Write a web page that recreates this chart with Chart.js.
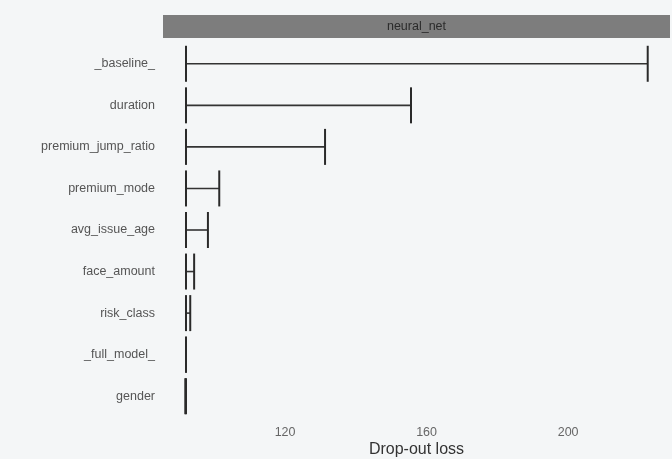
<!DOCTYPE html>
<html>
<head>
<meta charset="utf-8">
<script src="https://cdn.jsdelivr.net/npm/chart.js@4"></script>
<style>
    html, body { margin: 0; padding: 0; background: #f4f6f7; }
    #wrap { width: 672px; height: 459px; position: relative; }
</style>
</head>
<body>
<div id="wrap"><canvas id="lossChart"></canvas></div>
<script>
// ==========================================
// DROP-OUT LOSS - neural_net
// ==========================================

const variables = ['_baseline_', 'duration', 'premium_jump_ratio', 'premium_mode', 'avg_issue_age',
    'face_amount', 'risk_class', '_full_model_', 'gender'];
const fullModelLoss = 92.0;
const dropoutLoss = [222.5, 155.6, 131.3, 101.4, 98.2, 94.3, 93.2, 92.0, 91.8];
const xTicks = [120, 160, 200];
const panelTitle = 'neural_net';

const FONT = '"Liberation Sans", Arial, sans-serif';

// Franja gris del facet encima del panel
const stripPlugin = {
    id: 'strip',
    beforeDraw(chart) {
        const { ctx, chartArea } = chart;
        ctx.save();
        ctx.fillStyle = '#7d7d7d';
        ctx.fillRect(chartArea.left, chartArea.top - 28, chartArea.right - chartArea.left, 23);
        ctx.fillStyle = '#2b2b2b';
        ctx.font = '12.5px ' + FONT;
        ctx.textAlign = 'center';
        ctx.textBaseline = 'middle';
        ctx.fillText(panelTitle, (chartArea.left + chartArea.right) / 2, chartArea.top - 16);
        ctx.restore();
    }
};

const datasets = variables.map((v, i) => ({
    label: v,
    data: [{ x: fullModelLoss, y: v }, { x: dropoutLoss[i], y: v }],
    borderColor: '#333333',
    borderWidth: 1.6,
    pointStyle: 'line',
    rotation: 90,
    pointRadius: 18,
    pointHoverRadius: 18,
    pointBorderColor: '#2a2a2a',
    pointBorderWidth: 2,
    tension: 0
}));

new Chart(document.getElementById('lossChart').getContext('2d'), {
    type: 'line',
    data: { datasets },
    options: {
        responsive: true,
        maintainAspectRatio: false,
        animation: false,
        layout: { autoPadding: false, padding: { top: 43, right: 2, left: 0, bottom: 0 } },
        plugins: { legend: { display: false }, tooltip: { enabled: false } },
        scales: {
            x: {
                type: 'linear',
                min: 85.5,
                max: 228.8,
                afterBuildTicks: scale => { scale.ticks = xTicks.map(v => ({ value: v })); },
                afterFit: scale => { scale.height = 42; },
                grid: { display: false, drawTicks: false },
                border: { display: false },
                ticks: { color: '#666', padding: 8, font: { size: 12.5, family: FONT } },
                title: {
                    display: true,
                    text: 'Drop-out loss',
                    color: '#333',
                    padding: { top: 1, bottom: 0 },
                    font: { size: 16, family: FONT }
                }
            },
            y: {
                type: 'category',
                labels: variables,
                offset: true,
                afterFit: scale => { scale.width = 163; },
                grid: { display: false, drawTicks: false },
                border: { display: false },
                ticks: { color: '#555', padding: 8, font: { size: 12.5, family: FONT } }
            }
        }
    },
    plugins: [stripPlugin]
});
</script>
</body>
</html>
